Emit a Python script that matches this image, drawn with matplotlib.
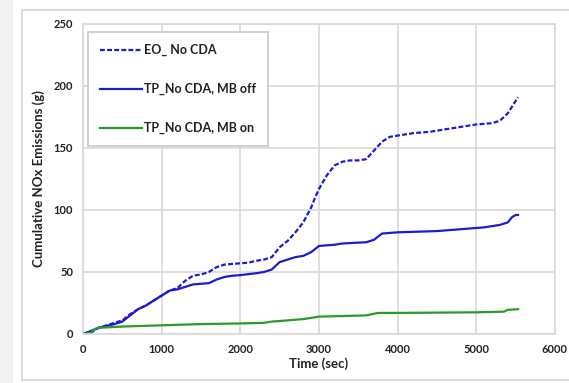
import matplotlib
matplotlib.use('Agg')
import matplotlib.pyplot as plt
from matplotlib.patches import Rectangle
from matplotlib.lines import Line2D

# time (sec) and cumulative NOx (g)
t_eo = [0, 100, 200, 300, 400, 500, 600, 700, 800, 900, 1000, 1100, 1200, 1300,
        1400, 1500, 1600, 1700, 1800, 1900, 2000, 2100, 2200, 2300, 2400, 2500,
        2600, 2700, 2800, 2900, 2950, 3000, 3100, 3200, 3300, 3400, 3500, 3600,
        3700, 3800, 3900, 4000, 4200, 4400, 4600, 4800, 5000, 5200, 5300, 5400,
        5500, 5530]
eo_no_cda = [0, 1, 5, 7, 9, 11, 16, 20, 23, 27, 31, 35, 37, 43, 47, 48, 50, 54,
             56, 56.5, 57, 57.5, 59, 60, 62, 70, 75, 82, 90, 102, 110, 117, 128,
             136, 139, 140, 140, 141, 148, 155, 159, 160, 162, 163, 165, 167, 169,
             170, 172, 178, 188, 191]

t_off = [0, 200, 400, 500, 600, 700, 800, 900, 1000, 1100, 1200, 1300, 1400,
         1500, 1600, 1700, 1800, 1900, 2000, 2200, 2300, 2400, 2500, 2600, 2700,
         2800, 2900, 3000, 3200, 3300, 3600, 3700, 3800, 4000, 4500, 4900, 5100,
         5300, 5400, 5450, 5500, 5530]
tp_mb_off = [0, 5, 8, 10, 15, 20, 23, 27, 31, 35, 36, 38, 40, 40.5, 41, 44, 46,
             47, 47.5, 49, 50, 52, 58, 60, 62, 63, 66, 71, 72, 73, 74, 76, 81, 82,
             83, 85, 86, 88, 90, 94, 96, 96]

t_on = [0, 100, 150, 200, 500, 1000, 1500, 2000, 2300, 2400, 2600, 2800, 2900,
        3000, 3600, 3750, 4000, 5000, 5350, 5400, 5530]
tp_mb_on = [0, 1, 4, 5, 6, 7, 8, 8.5, 9, 10, 11, 12, 13, 14, 15, 17, 17, 17.5,
            18, 19.5, 20]

labels = ['EO_ No CDA', 'TP_No CDA, MB off', 'TP_No CDA, MB on']

plt.rcParams['font.family'] = ['Lato', 'DejaVu Sans']
plt.rcParams['font.weight'] = 'bold'

fig = plt.figure(figsize=(5.69, 3.83), dpi=100)
# outer frame of the screenshot
fig.patches.append(Rectangle((0, 0), 13 / 569, 1, transform=fig.transFigure,
                             facecolor='#f2f2f2', edgecolor='none', zorder=-5))
fig.patches.append(Rectangle((22 / 569, 3 / 383), 1.1, 370 / 383, transform=fig.transFigure,
                             facecolor='white', edgecolor='#d4d4d4', lw=1.2, zorder=-4))

ax = fig.add_axes([83 / 569, 49 / 383, 472 / 569, 310 / 383])
blue = '#1c1ccc'
green = '#2a9a2a'
ax.plot(t_eo, eo_no_cda, color=blue, lw=1.6, ls=(0, (2.2, 1)))
ax.plot(t_off, tp_mb_off, color=blue, lw=1.6)
ax.plot(t_on, tp_mb_on, color=green, lw=1.6)

ax.set_xlim(0, 6000)
ax.set_ylim(0, 250)
ax.set_xticks(range(0, 6001, 1000))
ax.set_yticks(range(0, 251, 50))
ax.grid(True, color='#d9d9d9', lw=1.2)
ax.set_axisbelow(True)
for s in ax.spines.values():
    s.set_color('#d9d9d9')
    s.set_linewidth(1.2)
ax.tick_params(length=0, labelsize=8, pad=7, colors='#222222')
ax.set_xlabel('Time (sec)', fontsize=9.5, fontweight='bold', labelpad=2, color='#222222')
ax.set_ylabel('Cumulative NOx Emissions (g)', fontsize=9.5, fontweight='bold',
              labelpad=6, color='#222222')

handles = [Line2D([], [], color=blue, lw=1.6, ls=(0, (2.2, 1))),
           Line2D([], [], color=blue, lw=1.6),
           Line2D([], [], color=green, lw=1.6)]
leg = ax.legend(handles, labels, loc='upper left', bbox_to_anchor=(5 / 472, 1 - 8 / 310),
                borderaxespad=0, fontsize=9, handlelength=3.4, handletextpad=0.1,
                labelspacing=2.15, borderpad=0.95, fancybox=False,
                edgecolor='#c8c8c8', framealpha=1)
leg.get_frame().set_linewidth(1.2)
for txt in leg.get_texts():
    txt.set_color('#222222')

plt.savefig('out.png', dpi=100)
